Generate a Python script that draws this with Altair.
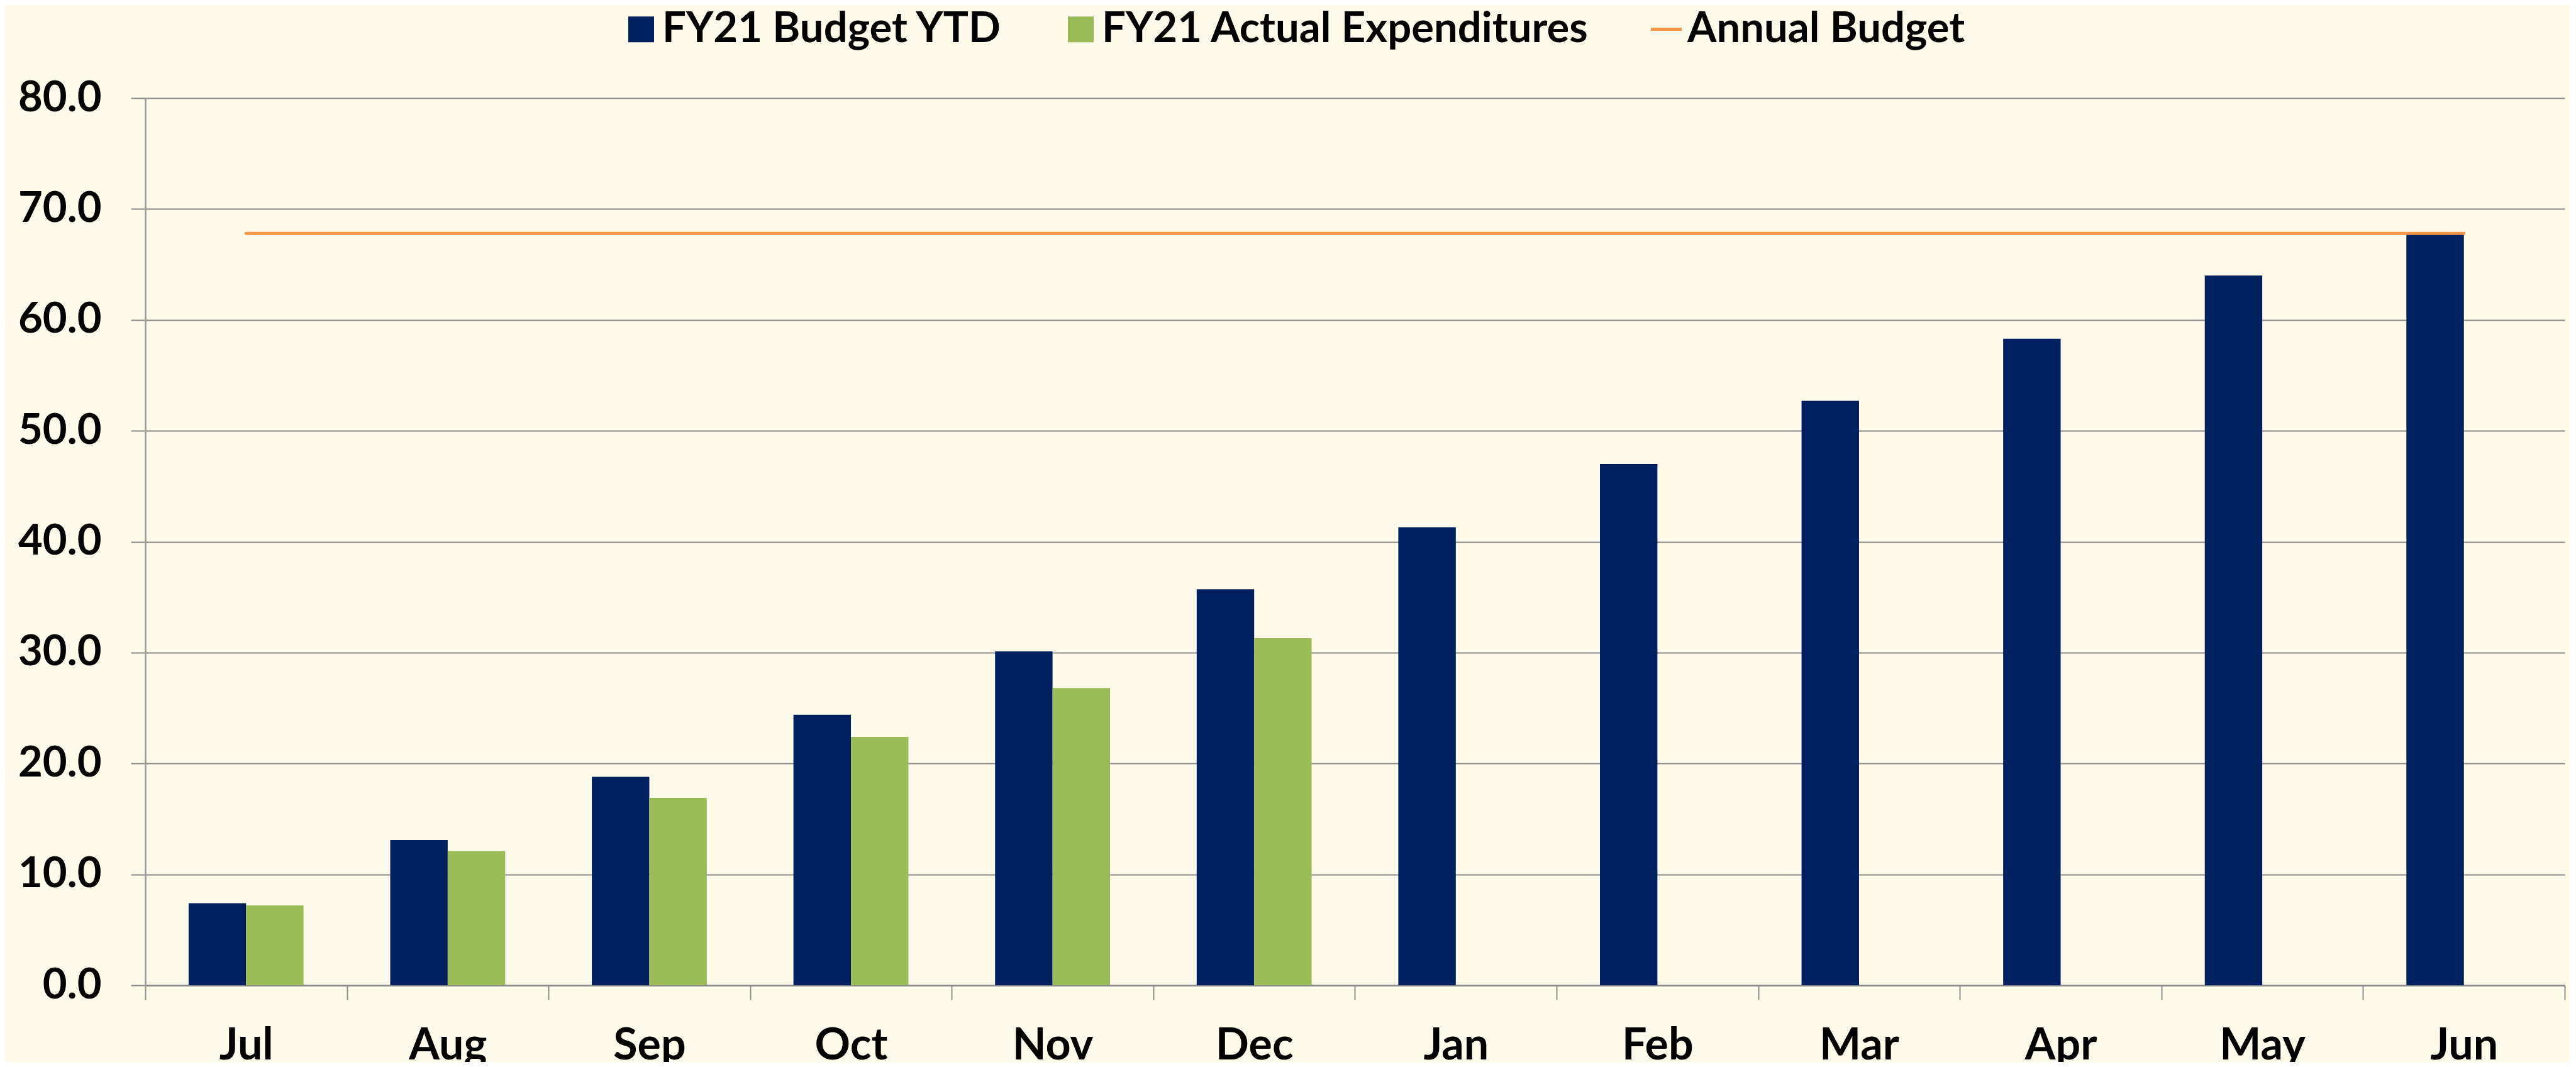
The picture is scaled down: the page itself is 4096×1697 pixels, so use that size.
import altair as alt
import pandas as pd

# ---- data ----
months = ["Jul", "Aug", "Sep", "Oct", "Nov", "Dec",
          "Jan", "Feb", "Mar", "Apr", "May", "Jun"]
budget_ytd = [7.4, 13.1, 18.8, 24.4, 30.1, 35.7, 41.3, 47.0, 52.7, 58.3, 64.0, 67.8]
actual_exp = [7.2, 12.1, 16.9, 22.4, 26.8, 31.3, None, None, None, None, None, None]
annual_budget = 67.8
series_names = ["FY21 Budget YTD", "FY21 Actual Expenditures"]
series_colors = ["#002060", "#9BBB59"]
line_name = "Annual Budget"
line_color = "#F79646"
y_ticks = [0, 10, 20, 30, 40, 50, 60, 70, 80]

rows = []
for m, b, a in zip(months, budget_ytd, actual_exp):
    rows.append({"month": m, "series": series_names[0], "value": b})
    if a is not None:
        rows.append({"month": m, "series": series_names[1], "value": a})
bars_df = pd.DataFrame(rows)
line_df = pd.DataFrame({
    "month": [months[0], months[-1]],
    "series": [line_name, line_name],
    "value": [annual_budget, annual_budget],
})

FONT = "Lato"
GRID = "#878787"

x_enc = alt.X(
    "month:N", sort=months,
    scale=alt.Scale(domain=months, paddingInner=0, paddingOuter=0),
    axis=alt.Axis(title=None, labelAngle=0, labelFont=FONT, labelFontSize=70,
                  labelFontWeight="bold", labelColor="#000000", labelPadding=39,
                  tickBand="extent", tickSize=23, tickColor="#909090", tickWidth=2,
                  domainColor="#8a8a8a", domainWidth=2.5, grid=False),
)
y_enc = alt.Y(
    "value:Q",
    scale=alt.Scale(domain=[0, 80], nice=False, zero=True),
    axis=alt.Axis(title=None, values=y_ticks, format=".1f", labelFont=FONT,
                  labelFontSize=67, labelFontWeight="bold", labelColor="#000000",
                  labelPadding=47, tickSize=23, tickColor=GRID, tickWidth=2,
                  domainColor="#999999", domainWidth=2.6,
                  grid=True, gridColor=GRID, gridWidth=2),
)

bars = alt.Chart(bars_df).mark_bar().encode(
    x=x_enc,
    xOffset=alt.XOffset("series:N", sort=series_names,
                        scale=alt.Scale(domain=series_names, paddingInner=0, paddingOuter=0.754)),
    y=y_enc,
    color=alt.Color(
        "series:N", sort=series_names,
        scale=alt.Scale(domain=series_names, range=series_colors),
        legend=alt.Legend(title=None, orient="none", legendX=755, legendY=-143,
                          direction="horizontal", symbolType="square", symbolSize=1681,
                          symbolStrokeWidth=0, symbolOpacity=1,
                          labelFont=FONT, labelFontSize=67, labelFontWeight="bold",
                          labelColor="#000000", labelOffset=0, columnPadding=91,
                          labelLimit=2000, padding=0),
    ),
)

line = alt.Chart(line_df).mark_line(strokeWidth=5, strokeCap="round").encode(
    x=x_enc,
    y=y_enc,
    stroke=alt.Stroke(
        "series:N",
        scale=alt.Scale(domain=[line_name], range=[line_color]),
        legend=alt.Legend(title=None, orient="none", legendX=2385, legendY=-143,
                          direction="horizontal", symbolType="stroke", symbolSize=2401,
                          symbolStrokeWidth=5,
                          labelFont=FONT, labelFontSize=67, labelFontWeight="bold",
                          labelColor="#000000", labelOffset=0, labelLimit=2000,
                          padding=0),
    ),
)

chart = alt.layer(bars, line).properties(
    width=3847, height=1411,
    autosize=alt.AutoSizeParams(type="none"),
    padding={"left": 223, "top": 148, "right": 8, "bottom": 122},
    background="#FEFBEA",
).configure_view(stroke=None)

chart.save("out.html", embed_options={"renderer": "svg", "actions": False})
